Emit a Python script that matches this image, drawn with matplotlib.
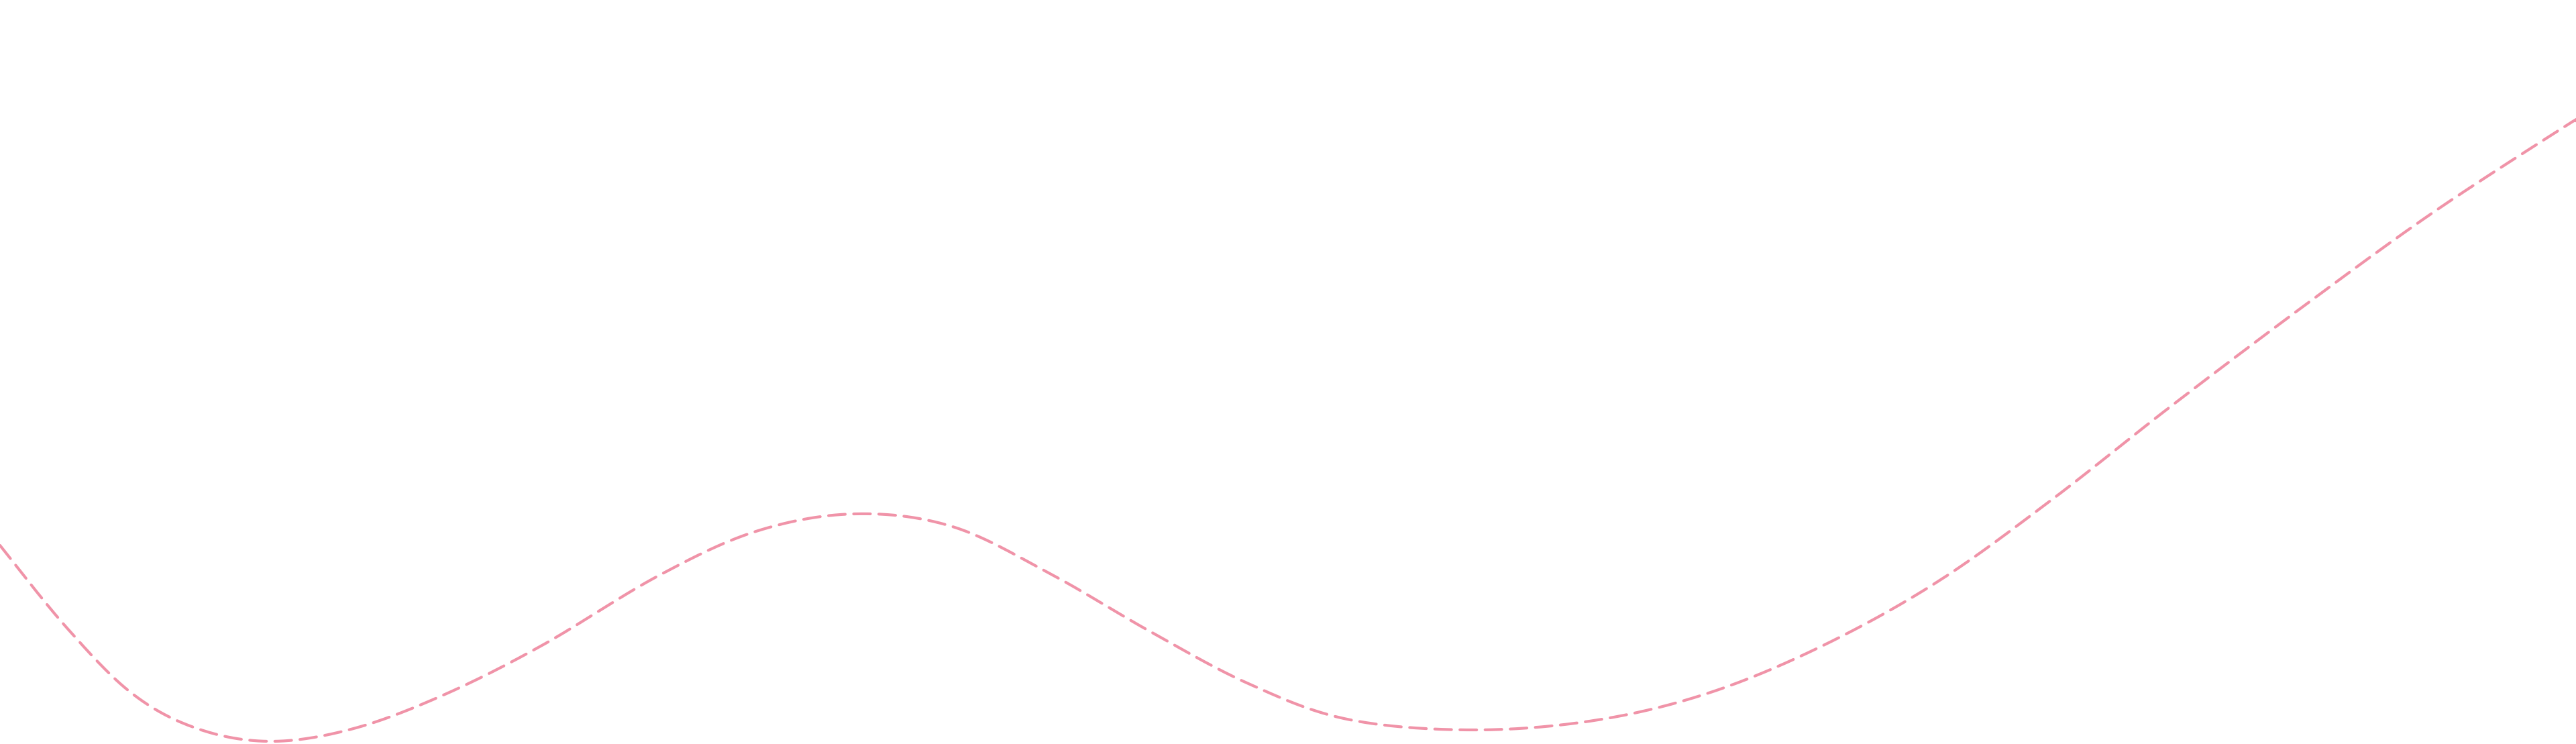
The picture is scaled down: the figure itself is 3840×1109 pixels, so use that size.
import numpy as np
import matplotlib
matplotlib.use("Agg")
import matplotlib.pyplot as plt

# points, in pixel coords (y down)
xs = [0, 98, 196, 294, 404, 527, 661, 808, 980, 1127, 1274, 1420, 1567, 1714,
      1861, 2008, 2192, 2376, 2547, 2718, 2890, 3061, 3233, 3429, 3625, 3821, 3840]
ys = [813, 934, 1033, 1086, 1105, 1086, 1036, 962, 859, 792, 766, 785, 856, 941,
      1019, 1072, 1088, 1074, 1033, 962, 866, 743, 608, 460, 318, 190, 180]


def catmull_rom(px, py, n=30):
    p = np.column_stack([px, py]).astype(float)
    p = np.vstack([p[0], p, p[-1]])
    out = []
    for i in range(1, len(p) - 2):
        p0, p1, p2, p3 = p[i - 1], p[i], p[i + 1], p[i + 2]
        t = np.linspace(0, 1, n, endpoint=False)[:, None]
        out.append(0.5 * ((2 * p1) + (-p0 + p2) * t + (2 * p0 - 5 * p1 + 4 * p2 - p3) * t ** 2
                          + (-p0 + 3 * p1 - 3 * p2 + p3) * t ** 3))
    out.append(p[-2][None, :])
    out = np.vstack(out)
    return out[:, 0], out[:, 1]


cx, cy = catmull_rom(xs, ys)

fig = plt.figure(figsize=(38.4, 11.09), dpi=100)
ax = fig.add_axes([0, 0, 1, 1])
ax.plot(cx, cy, color="#f093a8", lw=3, dashes=(6, 3), solid_capstyle="round",
        dash_capstyle="round")
ax.set_xlim(0, 3840)
ax.set_ylim(1109, 0)
ax.axis("off")
fig.savefig("out.png", dpi=100)
